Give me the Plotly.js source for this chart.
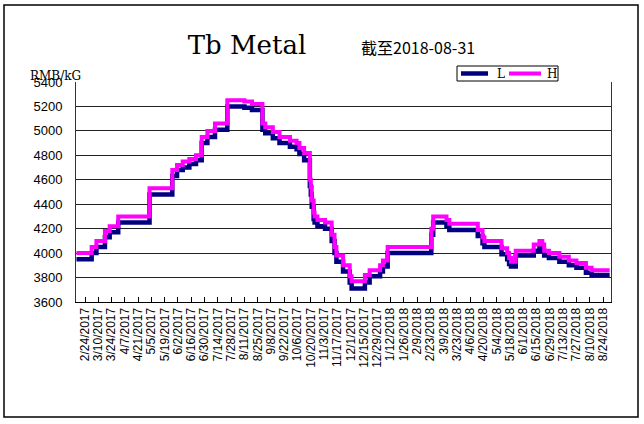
<!DOCTYPE html>
<html>
<head>
<meta charset="utf-8">
<script src="https://cdn.plot.ly/plotly-3.0.1.min.js"></script>
<style>
html,body{margin:0;padding:0;background:#fff;}
#chart{width:644px;height:424px;}
</style>
</head>
<body>
<div id="chart"></div>
<script>
// Step-change dates (price changes) and values
const dates = ['2017-02-15','2017-03-03','2017-03-08','2017-03-17','2017-03-22','2017-03-31','2017-05-03','2017-05-27','2017-06-01','2017-06-07','2017-06-14','2017-06-21','2017-06-27','2017-07-03','2017-07-11','2017-07-24','2017-08-11','2017-08-19','2017-08-30','2017-09-02','2017-09-10','2017-09-17','2017-09-28','2017-10-05','2017-10-08','2017-10-13','2017-10-19','2017-10-20','2017-10-21','2017-10-23','2017-10-24','2017-10-27','2017-11-04','2017-11-11','2017-11-14','2017-11-16','2017-11-23','2017-11-30','2017-12-02','2017-12-16','2017-12-21','2018-01-01','2018-01-04','2018-01-09','2018-02-24','2018-02-26','2018-03-12','2018-03-15','2018-04-14','2018-04-19','2018-04-21','2018-05-09','2018-05-15','2018-05-17','2018-05-19','2018-05-24','2018-06-12','2018-06-18','2018-06-21','2018-06-23','2018-06-28','2018-07-09','2018-07-19','2018-07-27','2018-08-06','2018-08-12','2018-08-31'];
const lowValues = [3950,4000,4050,4130,4170,4250,4480,4630,4680,4700,4730,4760,4900,4950,5010,5200,5190,5170,5010,4980,4940,4900,4870,4850,4810,4760,4550,4480,4380,4280,4250,4220,4200,4100,4000,3930,3850,3760,3710,3760,3810,3850,3890,4000,4150,4250,4220,4190,4140,4080,4050,3990,3950,3910,3890,3980,4020,4060,4020,3980,3960,3930,3900,3880,3840,3820,3820];
const highValues = [4000,4050,4100,4180,4220,4300,4530,4680,4720,4750,4770,4800,4950,5000,5060,5250,5240,5220,5060,5030,4990,4950,4920,4900,4860,4820,4600,4540,4430,4330,4300,4270,4250,4150,4050,3980,3900,3810,3770,3820,3860,3900,3940,4050,4200,4300,4270,4240,4190,4130,4100,4040,4000,3960,3930,4020,4070,4100,4070,4020,4000,3970,3940,3920,3880,3860,3860];
const tickDates = ['2017-02-24','2017-03-10','2017-03-24','2017-04-07','2017-04-21','2017-05-05','2017-05-19','2017-06-02','2017-06-16','2017-06-30','2017-07-14','2017-07-28','2017-08-11','2017-08-25','2017-09-08','2017-09-22','2017-10-06','2017-10-20','2017-11-03','2017-11-17','2017-12-01','2017-12-15','2017-12-29','2018-01-12','2018-01-26','2018-02-09','2018-02-23','2018-03-09','2018-03-23','2018-04-06','2018-04-20','2018-05-04','2018-05-18','2018-06-01','2018-06-15','2018-06-29','2018-07-13','2018-07-27','2018-08-10','2018-08-24'];
const tickLabels = ['2/24/2017','3/10/2017','3/24/2017','4/7/2017','4/21/2017','5/5/2017','5/19/2017','6/2/2017','6/16/2017','6/30/2017','7/14/2017','7/28/2017','8/11/2017','8/25/2017','9/8/2017','9/22/2017','10/6/2017','10/20/2017','11/3/2017','11/17/2017','12/1/2017','12/15/2017','12/29/2017','1/12/2018','1/26/2018','2/9/2018','2/23/2018','3/9/2018','3/23/2018','4/6/2018','4/20/2018','5/4/2018','5/18/2018','6/1/2018','6/15/2018','6/29/2018','7/13/2018','7/27/2018','8/10/2018','8/24/2018'];
const seriesNames = ['L','H'];
const seriesColors = ['#000080','#FF00FF'];

const traces = [
  {x: dates, y: lowValues, name: seriesNames[0], type: 'scatter', mode: 'lines',
   line: {color: seriesColors[0], width: 4.5, shape: 'hv'}},
  {x: dates, y: highValues, name: seriesNames[1], type: 'scatter', mode: 'lines',
   line: {color: seriesColors[1], width: 4, shape: 'hv'}}
];

const L = 76, R = 611, T = 82, B = 302;
const pw = R - L, ph = B - T;
const px = v => (v - L) / pw;
const py = v => (B - v) / ph;

// hand-placed legend (box, samples, labels)
const legY = 73.5;
const legendShapes = [
  {type: 'rect', xref: 'paper', yref: 'paper', x0: px(457), x1: px(558), y0: py(81), y1: py(66),
   line: {color: '#000', width: 1}, fillcolor: '#fff', layer: 'above'},
  {type: 'line', xref: 'paper', yref: 'paper', x0: px(461), x1: px(488), y0: py(legY), y1: py(legY),
   line: {color: seriesColors[0], width: 4.5}, layer: 'above'},
  {type: 'line', xref: 'paper', yref: 'paper', x0: px(509), x1: px(541), y0: py(legY), y1: py(legY),
   line: {color: seriesColors[1], width: 4}, layer: 'above'}
];
const legendTexts = [
  {text: seriesNames[0], xref: 'paper', yref: 'paper', x: px(495), y: py(legY), xanchor: 'left', yanchor: 'middle',
   showarrow: false, font: {family: 'DejaVu Serif', size: 12, color: '#000'}},
  {text: seriesNames[1], xref: 'paper', yref: 'paper', x: px(545), y: py(legY), xanchor: 'left', yanchor: 'middle',
   showarrow: false, font: {family: 'DejaVu Serif', size: 12, color: '#000'}}
];

const layout = {
  width: 644, height: 424,
  margin: {l: L, r: 644 - R, t: T, b: 424 - B, pad: 0},
  paper_bgcolor: '#ffffff', plot_bgcolor: '#ffffff',
  title: {text: 'Tb Metal', x: 247/644, xanchor: 'center', y: 1 - 45/424, yanchor: 'middle',
          xref: 'container', yref: 'container',
          font: {family: 'DejaVu Serif', size: 26, color: '#000'}},
  xaxis: {
    type: 'date', range: ['2017-02-14 12:00', '2018-09-01 10:00'],
    tickmode: 'array', tickvals: tickDates, ticktext: tickLabels,
    tickangle: -90, ticks: 'inside', ticklen: 5, tickcolor: '#000', tickwidth: 1,
    showline: true, linecolor: '#000', linewidth: 1, mirror: false,
    showgrid: false, zeroline: false,
    tickfont: {family: 'Liberation Sans, Arial', size: 12, color: '#000'}
  },
  yaxis: {
    range: [3600, 5400], dtick: 200, tick0: 3600,
    ticks: '', ticklabelstandoff: 10,
    showline: true, linecolor: '#333', linewidth: 1, mirror: true,
    showgrid: true, gridcolor: '#222', gridwidth: 1, zeroline: false,
    tickfont: {family: 'Liberation Sans, Arial', size: 13, color: '#000'}
  },
  showlegend: false,
  annotations: [
    {text: '截至2018-08-31', xref: 'paper', yref: 'paper', x: px(418), y: py(47),
     xanchor: 'center', yanchor: 'middle', showarrow: false,
     font: {family: 'Noto Sans CJK SC', size: 16, color: '#000'}},
    {text: 'RMB/kG', xref: 'paper', yref: 'paper', x: px(28), y: py(76),
     xanchor: 'left', yanchor: 'middle', showarrow: false,
     font: {family: 'DejaVu Serif', size: 12, color: '#000'}}
  ].concat(legendTexts),
  shapes: [
    {type: 'rect', xref: 'paper', yref: 'paper', x0: px(4), x1: px(638), y0: py(417), y1: py(5),
     line: {color: '#000', width: 1.5}, fillcolor: 'rgba(0,0,0,0)', layer: 'above'}
  ].concat(legendShapes),
  hovermode: false
};

Plotly.newPlot('chart', traces, layout, {staticPlot: true, displayModeBar: false});
</script>
</body>
</html>
